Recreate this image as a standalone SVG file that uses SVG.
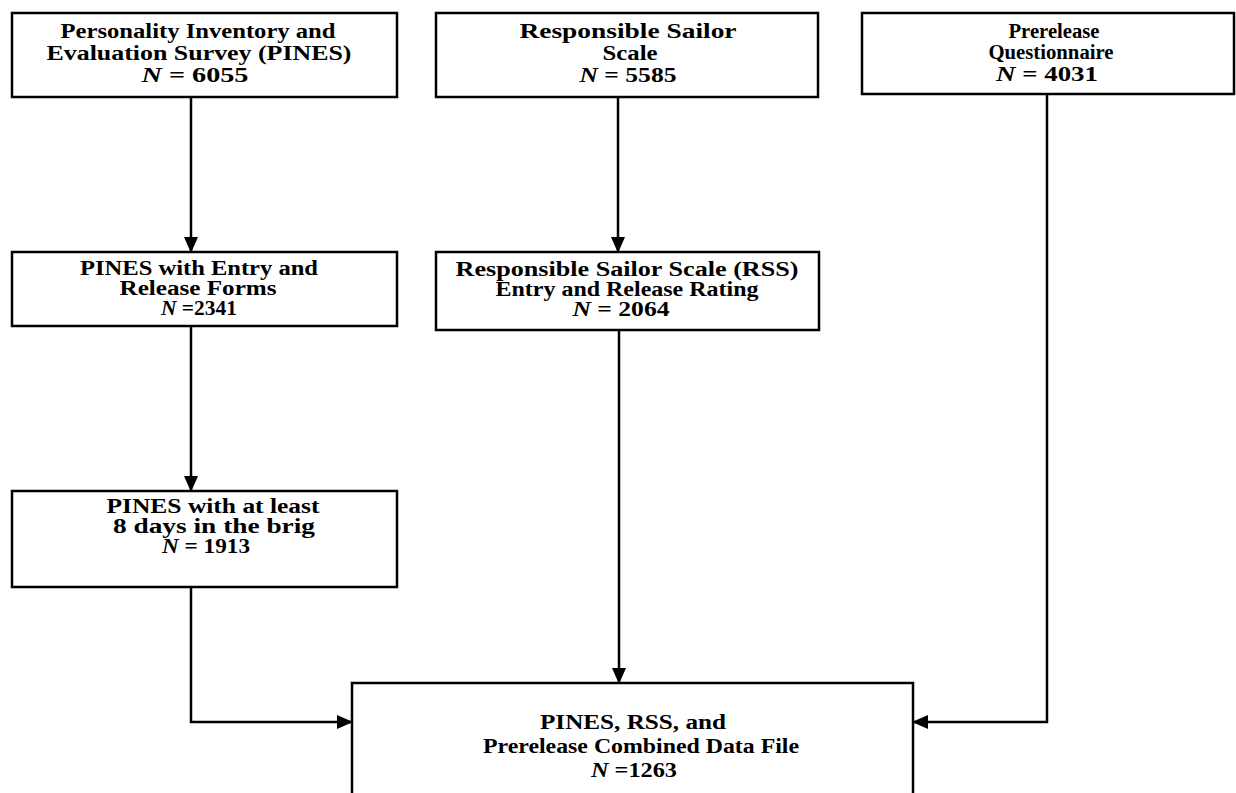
<svg xmlns="http://www.w3.org/2000/svg" width="1236" height="793" viewBox="0 0 1236 793">
<defs>
<marker id="ah" markerUnits="userSpaceOnUse" markerWidth="16" markerHeight="16" viewBox="0 0 16 16" refX="15" refY="8" orient="auto">
<path d="M0,1 L16,8 L0,15 Z" fill="#000"/>
</marker>
<style>
.box{fill:#fff;stroke:#000;stroke-width:2.5}
.t{font-family:"Liberation Serif","Times New Roman",serif;font-weight:bold;font-size:20px;text-anchor:middle;fill:#000}
.n{font-style:italic}
.c{fill:none;stroke:#000;stroke-width:2.5}
</style>
</defs>
<rect width="1236" height="793" fill="#fff"/>
<g id="connectors">
<path class="c" d="M191,97 V252" marker-end="url(#ah)"/>
<path class="c" d="M618,97 V252" marker-end="url(#ah)"/>
<path class="c" d="M191,326 V491" marker-end="url(#ah)"/>
<path class="c" d="M619,330 V683" marker-end="url(#ah)"/>
<path class="c" d="M191,587 V722 H352" marker-end="url(#ah)"/>
<path class="c" d="M1047,94 V722 H913" marker-end="url(#ah)"/>
</g>
<g id="pines">
<rect class="box" x="12" y="13" width="385" height="84"/>
<text class="t" x="198" y="38" textLength="275" lengthAdjust="spacingAndGlyphs">Personality Inventory and</text>
<text class="t" x="199" y="60" textLength="305" lengthAdjust="spacingAndGlyphs">Evaluation Survey (PINES)</text>
<text class="t" x="195" y="82" textLength="107" lengthAdjust="spacingAndGlyphs"><tspan class="n">N</tspan> = 6055</text>
</g>
<g id="rss">
<rect class="box" x="436" y="13" width="382" height="84"/>
<text class="t" x="628" y="38" textLength="217" lengthAdjust="spacingAndGlyphs">Responsible Sailor</text>
<text class="t" x="630" y="60" textLength="55" lengthAdjust="spacingAndGlyphs">Scale</text>
<text class="t" x="628" y="82" textLength="97" lengthAdjust="spacingAndGlyphs"><tspan class="n">N</tspan> = 5585</text>
</g>
<g id="prerelease">
<rect class="box" x="862" y="13" width="372" height="81"/>
<text class="t" x="1054" y="38" textLength="91" lengthAdjust="spacingAndGlyphs">Prerelease</text>
<text class="t" x="1051" y="59" textLength="125" lengthAdjust="spacingAndGlyphs">Questionnaire</text>
<text class="t" x="1047" y="81" textLength="102" lengthAdjust="spacingAndGlyphs"><tspan class="n">N</tspan> = 4031</text>
</g>
<g id="pines-entry">
<rect class="box" x="12" y="252" width="385" height="74"/>
<text class="t" x="199" y="275" textLength="238" lengthAdjust="spacingAndGlyphs">PINES with Entry and</text>
<text class="t" x="198" y="295" textLength="157" lengthAdjust="spacingAndGlyphs">Release Forms</text>
<text class="t" x="199" y="315" textLength="76" lengthAdjust="spacingAndGlyphs"><tspan class="n">N</tspan> =2341</text>
</g>
<g id="rss-entry">
<rect class="box" x="436" y="252" width="383" height="78"/>
<text class="t" x="627" y="276" textLength="343" lengthAdjust="spacingAndGlyphs">Responsible Sailor Scale (RSS)</text>
<text class="t" x="627" y="296" textLength="263" lengthAdjust="spacingAndGlyphs">Entry and Release Rating</text>
<text class="t" x="621" y="316" textLength="97" lengthAdjust="spacingAndGlyphs"><tspan class="n">N</tspan> = 2064</text>
</g>
<g id="pines-brig">
<rect class="box" x="12" y="491" width="385" height="96"/>
<text class="t" x="213" y="513" textLength="213" lengthAdjust="spacingAndGlyphs">PINES with at least</text>
<text class="t" x="214" y="533" textLength="202" lengthAdjust="spacingAndGlyphs">8 days in the brig</text>
<text class="t" x="206" y="553" textLength="88" lengthAdjust="spacingAndGlyphs"><tspan class="n">N</tspan> = 1913</text>
</g>
<g id="combined">
<rect class="box" x="352" y="683" width="561" height="130"/>
<text class="t" x="633" y="729" textLength="186" lengthAdjust="spacingAndGlyphs">PINES, RSS, and</text>
<text class="t" x="641" y="753" textLength="316" lengthAdjust="spacingAndGlyphs">Prerelease Combined Data File</text>
<text class="t" x="634" y="777" textLength="86" lengthAdjust="spacingAndGlyphs"><tspan class="n">N</tspan> =1263</text>
</g>
</svg>
